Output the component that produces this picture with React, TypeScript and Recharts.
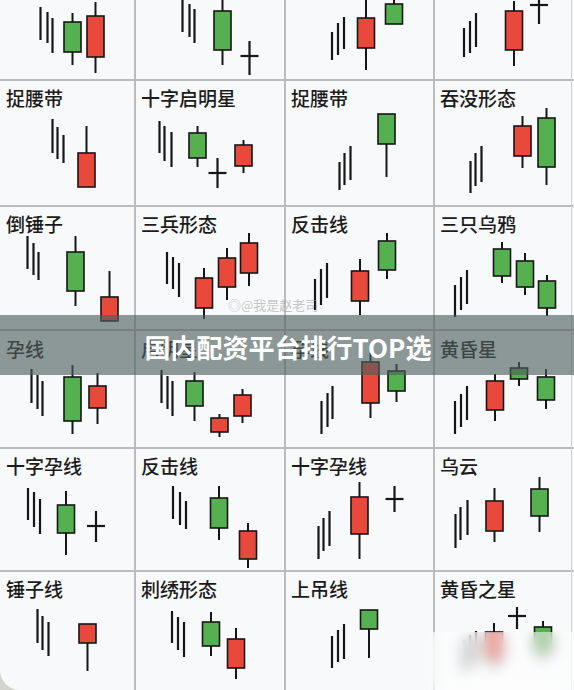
import React from 'react';
import { ComposedChart, Bar, XAxis, YAxis } from 'recharts';

type Pt = { t: number; h: number; l: number; o?: number; c?: number };

// ---- layout of the pattern grid (cell edges) ----
const colLefts = [0, 135, 285, 434];
const colRights = [135, 285, 434, 574];
const rowTops = [-45, 80, 206, 331, 448, 571];
const rowBottoms = [80, 206, 331, 448, 571, 690];

// ---- labels ----
const labels: string[][] = [
  ['', '', '', ''],
  ['捉腰带', '十字启明星', '捉腰带', '吞没形态'],
  ['倒锤子', '三兵形态', '反击线', '三只乌鸦'],
  ['孕线', '启明星', '孕线', '黄昏星'],
  ['十字孕线', '反击线', '十字孕线', '乌云'],
  ['锤子线', '刺绣形态', '上吊线', '黄昏之星'],
];

// ---- trend strokes (t, high, low) and candles (t, open, close, high, low) per cell ----
const trend_r0c0: Pt[] = [{ t: 40, h: 73, l: 40 }, { t: 47, h: 68, l: 37 }, { t: 52, h: 62, l: 27 }];
const bars_r0c0: Pt[] = [{ t: 72, o: 58, c: 28, h: 67, l: 15 }, { t: 95, o: 23, c: 64, h: 78, l: 7 }];
const trend_r0c1: Pt[] = [{ t: 47, h: 85, l: 48 }, { t: 54, h: 76, l: 43 }, { t: 59, h: 71, l: 37 }];
const bars_r0c1: Pt[] = [{ t: 87, o: 69, c: 30, h: 88, l: 15 }, { t: 114, o: 24, c: 24, h: 39, l: 5 }];
const trend_r0c2: Pt[] = [{ t: 47, h: 48, l: 20 }, { t: 53, h: 57, l: 25 }, { t: 59, h: 63, l: 31 }];
const bars_r0c2: Pt[] = [{ t: 81, o: 32, c: 62, h: 88, l: 10 }, { t: 109, o: 76, c: 56, h: 88, l: 56 }];
const trend_r0c3: Pt[] = [{ t: 30, h: 52, l: 23 }, { t: 36, h: 59, l: 27 }, { t: 42, h: 67, l: 33 }];
const bars_r0c3: Pt[] = [{ t: 80, o: 30, c: 69, h: 79, l: 14 }, { t: 105, o: 75, c: 75, h: 88, l: 56 }];

const trend_r1c0: Pt[] = [{ t: 52, h: 87, l: 53 }, { t: 57, h: 79, l: 47 }, { t: 63, h: 71, l: 43 }];
const bars_r1c0: Pt[] = [{ t: 86, o: 19, c: 53, h: 80, l: 19 }];
const trend_r1c1: Pt[] = [{ t: 24, h: 85, l: 53 }, { t: 29, h: 80, l: 45 }, { t: 36, h: 74, l: 39 }];
const bars_r1c1: Pt[] = [{ t: 62, o: 73, c: 48, h: 80, l: 39 }, { t: 82, o: 33, c: 33, h: 48, l: 18 }, { t: 108, o: 40, c: 61, h: 66, l: 33 }];
const trend_r1c2: Pt[] = [{ t: 54, h: 44, l: 16 }, { t: 59, h: 53, l: 21 }, { t: 65, h: 60, l: 26 }];
const bars_r1c2: Pt[] = [{ t: 101, o: 92, c: 62, h: 92, l: 29 }];
const trend_r1c3: Pt[] = [{ t: 36, h: 45, l: 13 }, { t: 41, h: 53, l: 20 }, { t: 47, h: 60, l: 24 }];
const bars_r1c3: Pt[] = [{ t: 88, o: 50, c: 80, h: 90, l: 38 }, { t: 112, o: 88, c: 39, h: 98, l: 21 }];

const trend_r2c0: Pt[] = [{ t: 27, h: 95, l: 62 }, { t: 33, h: 88, l: 56 }, { t: 38, h: 79, l: 51 }];
const bars_r2c0: Pt[] = [{ t: 75, o: 79, c: 40, h: 95, l: 25 }, { t: 109, o: 10, c: 34, h: 60, l: 10 }];
const trend_r2c1: Pt[] = [{ t: 32, h: 79, l: 47 }, { t: 38, h: 74, l: 42 }, { t: 44, h: 68, l: 34 }];
const bars_r2c1: Pt[] = [{ t: 69, o: 23, c: 53, h: 63, l: 12 }, { t: 92, o: 44, c: 73, h: 83, l: 31 }, { t: 114, o: 58, c: 88, h: 98, l: 45 }];
const trend_r2c2: Pt[] = [{ t: 30, h: 52, l: 21 }, { t: 36, h: 62, l: 26 }, { t: 42, h: 68, l: 33 }];
const bars_r2c2: Pt[] = [{ t: 75, o: 30, c: 60, h: 72, l: 16 }, { t: 102, o: 90, c: 61, h: 98, l: 52 }];
const trend_r2c3: Pt[] = [{ t: 21, h: 46, l: 14 }, { t: 27, h: 54, l: 21 }, { t: 33, h: 61, l: 27 }];
const bars_r2c3: Pt[] = [{ t: 68, o: 82, c: 55, h: 89, l: 48 }, { t: 91, o: 70, c: 44, h: 78, l: 36 }, { t: 113, o: 50, c: 23, h: 56, l: 15 }];

const trend_r3c0: Pt[] = [{ t: 31, h: 79, l: 45 }, { t: 37, h: 73, l: 39 }, { t: 42, h: 67, l: 32 }];
const bars_r3c0: Pt[] = [{ t: 72, o: 71, c: 27, h: 83, l: 14 }, { t: 97, o: 40, c: 62, h: 75, l: 24 }];
const trend_r3c1: Pt[] = [{ t: 26, h: 78, l: 45 }, { t: 32, h: 72, l: 39 }, { t: 37, h: 67, l: 32 }];
const bars_r3c1: Pt[] = [{ t: 59, o: 67, c: 42, h: 76, l: 27 }, { t: 84, o: 16, c: 30, h: 34, l: 11 }, { t: 107, o: 32, c: 53, h: 59, l: 25 }];
const trend_r3c2: Pt[] = [{ t: 37, h: 47, l: 14 }, { t: 43, h: 55, l: 21 }, { t: 48, h: 62, l: 29 }];
const bars_r3c2: Pt[] = [{ t: 86, o: 45, c: 86, h: 95, l: 30 }, { t: 112, o: 77, c: 57, h: 84, l: 46 }];
const trend_r3c3: Pt[] = [{ t: 21, h: 47, l: 14 }, { t: 27, h: 54, l: 21 }, { t: 33, h: 62, l: 28 }];
const bars_r3c3: Pt[] = [{ t: 61, o: 38, c: 67, h: 74, l: 27 }, { t: 85, o: 80, c: 69, h: 86, l: 62 }, { t: 112, o: 71, c: 48, h: 79, l: 39 }];

const trend_r4c0: Pt[] = [{ t: 28, h: 83, l: 51 }, { t: 34, h: 79, l: 44 }, { t: 40, h: 72, l: 37 }];
const bars_r4c0: Pt[] = [{ t: 66, o: 66, c: 38, h: 80, l: 16 }, { t: 96, o: 45, c: 45, h: 60, l: 29 }];
const trend_r4c1: Pt[] = [{ t: 38, h: 85, l: 52 }, { t: 45, h: 79, l: 46 }, { t: 51, h: 70, l: 42 }];
const bars_r4c1: Pt[] = [{ t: 84, o: 73, c: 43, h: 85, l: 31 }, { t: 113, o: 12, c: 40, h: 48, l: 3 }];
const trend_r4c2: Pt[] = [{ t: 33, h: 45, l: 12 }, { t: 38, h: 53, l: 20 }, { t: 44, h: 60, l: 25 }];
const bars_r4c2: Pt[] = [{ t: 74, o: 37, c: 74, h: 89, l: 12 }, { t: 109, o: 72, c: 72, h: 85, l: 59 }];
const trend_r4c3: Pt[] = [{ t: 21, h: 57, l: 23 }, { t: 26, h: 64, l: 31 }, { t: 33, h: 71, l: 36 }];
const bars_r4c3: Pt[] = [{ t: 60, o: 40, c: 70, h: 83, l: 29 }, { t: 105, o: 82, c: 55, h: 94, l: 39 }];

const trend_r5c0: Pt[] = [{ t: 37, h: 81, l: 47 }, { t: 42, h: 74, l: 40 }, { t: 48, h: 68, l: 34 }];
const bars_r5c0: Pt[] = [{ t: 87, o: 47, c: 66, h: 66, l: 19 }];
const trend_r5c1: Pt[] = [{ t: 37, h: 79, l: 47 }, { t: 43, h: 73, l: 40 }, { t: 49, h: 68, l: 33 }];
const bars_r5c1: Pt[] = [{ t: 76, o: 68, c: 44, h: 78, l: 34 }, { t: 101, o: 22, c: 51, h: 62, l: 11 }];
const trend_r5c2: Pt[] = [{ t: 47, h: 54, l: 22 }, { t: 53, h: 60, l: 28 }, { t: 59, h: 66, l: 31 }];
const bars_r5c2: Pt[] = [{ t: 84, o: 80, c: 61, h: 80, l: 32 }];
const trend_r5c3: Pt[] = [{ t: 30, h: 50, l: 18 }, { t: 36, h: 55, l: 22 }, { t: 42, h: 59, l: 27 }];
const bars_r5c3: Pt[] = [{ t: 60, o: 30, c: 58, h: 67, l: 20 }, { t: 83, o: 74, c: 74, h: 83, l: 61 }, { t: 109, o: 63, c: 38, h: 69, l: 28 }];

const trends: Pt[][][] = [
  [trend_r0c0, trend_r0c1, trend_r0c2, trend_r0c3],
  [trend_r1c0, trend_r1c1, trend_r1c2, trend_r1c3],
  [trend_r2c0, trend_r2c1, trend_r2c2, trend_r2c3],
  [trend_r3c0, trend_r3c1, trend_r3c2, trend_r3c3],
  [trend_r4c0, trend_r4c1, trend_r4c2, trend_r4c3],
  [trend_r5c0, trend_r5c1, trend_r5c2, trend_r5c3],
];
const candles: Pt[][][] = [
  [bars_r0c0, bars_r0c1, bars_r0c2, bars_r0c3],
  [bars_r1c0, bars_r1c1, bars_r1c2, bars_r1c3],
  [bars_r2c0, bars_r2c1, bars_r2c2, bars_r2c3],
  [bars_r3c0, bars_r3c1, bars_r3c2, bars_r3c3],
  [bars_r4c0, bars_r4c1, bars_r4c2, bars_r4c3],
  [bars_r5c0, bars_r5c1, bars_r5c2, bars_r5c3],
];

const bannerText = '国内配资平台排行TOP选';
const watermarkText = '@我是赵老司';

const RED = '#e8493a';
const GREEN = '#55b04f';
const INK = '#161616';
const BODY_W = 17;
const DOJI_W = 18;

const range = (d: Pt) => [d.l, d.h];

function Candle(props: any) {
  const { x, y, width, height, payload } = props;
  if (x == null || y == null || !payload) return null;
  const cx = x + width / 2;
  const { o, c, h, l } = payload as Pt;
  const py = (v: number) => (h === l ? y : y + ((h - v) / (h - l)) * height);
  if (o == null || c == null) {
    return <line x1={cx} x2={cx} y1={y} y2={y + height} stroke={INK} strokeWidth={2.2} />;
  }
  if (o === c) {
    const yy = py(o);
    return (
      <g>
        <line x1={cx} x2={cx} y1={y} y2={y + height} stroke={INK} strokeWidth={2.2} />
        <line x1={cx - DOJI_W / 2} x2={cx + DOJI_W / 2} y1={yy} y2={yy} stroke={INK} strokeWidth={2.2} />
      </g>
    );
  }
  const top = py(Math.max(o, c));
  const bot = py(Math.min(o, c));
  return (
    <g>
      <line x1={cx} x2={cx} y1={y} y2={y + height} stroke={INK} strokeWidth={2} />
      <rect
        x={cx - BODY_W / 2}
        y={top}
        width={BODY_W}
        height={bot - top}
        fill={c > o ? RED : GREEN}
        stroke={INK}
        strokeWidth={1.6}
      />
    </g>
  );
}

function Cell({ r, ci }: { r: number; ci: number }) {
  const left = colLefts[ci];
  const top = rowTops[r];
  const width = colRights[ci] - left;
  const height = rowBottoms[r] - top;
  const data = [...trends[r][ci], ...candles[r][ci]];
  const label = labels[r][ci];
  return (
    <div style={{ position: 'absolute', left, top, width, height }}>
      <ComposedChart width={width} height={height} data={data} margin={{ top: 0, right: 0, bottom: 0, left: 0 }}>
        <XAxis type="number" dataKey="t" domain={[0, width]} allowDataOverflow hide />
        <YAxis type="number" domain={[0, height]} allowDataOverflow hide />
        <Bar dataKey={range} barSize={4} shape={Candle} isAnimationActive={false} />
      </ComposedChart>
      {label ? (
        <div
          style={{
            position: 'absolute',
            left: 6,
            top: 8,
            fontFamily: '"Noto Sans CJK SC", sans-serif',
            fontSize: 19,
            lineHeight: '19px',
            fontWeight: 500,
            color: '#1b1b1b',
            whiteSpace: 'nowrap',
          }}
        >
          {label}
        </div>
      ) : null}
    </div>
  );
}

const hLines = [80, 206, 330, 448, 571];
const vLines = [135, 285, 434];

export default function App() {
  const cells: React.ReactNode[] = [];
  for (let r = 0; r < rowTops.length; r++) {
    for (let ci = 0; ci < colLefts.length; ci++) {
      cells.push(<Cell key={`${r}-${ci}`} r={r} ci={ci} />);
    }
  }
  return (
    <div style={{ position: 'absolute', left: 0, top: 0, width: 574, height: 690, overflow: 'hidden', background: '#d3d4cd' }}>
      <div style={{ position: 'absolute', left: 0, top: 0, width: 574, height: 690, background: '#f8f9fb', borderBottomLeftRadius: 20 }} />
      {hLines.map((yv) => (
        <div key={'h' + yv} style={{ position: 'absolute', left: 0, top: yv - 1, width: 574, height: 2, background: '#bcbcbc' }} />
      ))}
      {vLines.map((xv) => (
        <div key={'v' + xv} style={{ position: 'absolute', left: xv - 1, top: 0, width: 2, height: 690, background: '#bcbcbc' }} />
      ))}
      <div style={{ position: 'absolute', left: 571, top: 0, width: 1, height: 690, background: '#d0d0d0' }} />
      {cells}
      <div
        style={{
          position: 'absolute',
          left: 228,
          top: 297,
          fontFamily: '"Noto Sans CJK SC", sans-serif',
          fontSize: 13,
          lineHeight: '16px',
          color: 'rgba(150,150,150,0.55)',
          whiteSpace: 'nowrap',
        }}
      >
        ◎{watermarkText}
      </div>
      <div
        style={{
          position: 'absolute',
          left: 0,
          top: 315,
          width: 574,
          height: 60,
          background: 'rgba(78,96,94,0.64)',
        }}
      />
      <div
        style={{
          position: 'absolute',
          left: 0,
          top: 330,
          width: 576,
          height: 34,
          textAlign: 'center',
          fontFamily: '"Noto Sans CJK SC", sans-serif',
          fontSize: 26,
          lineHeight: '34px',
          fontWeight: 700,
          color: '#ffffff',
          whiteSpace: 'nowrap',
        }}
      >
        {bannerText}
      </div>
      <div
        style={{
          position: 'absolute',
          left: 428,
          top: 632,
          width: 146,
          height: 58,
          backdropFilter: 'blur(7px)',
          WebkitBackdropFilter: 'blur(7px)',
          background: 'rgba(255,255,255,0.5)',
        }}
      />
    </div>
  );
}
